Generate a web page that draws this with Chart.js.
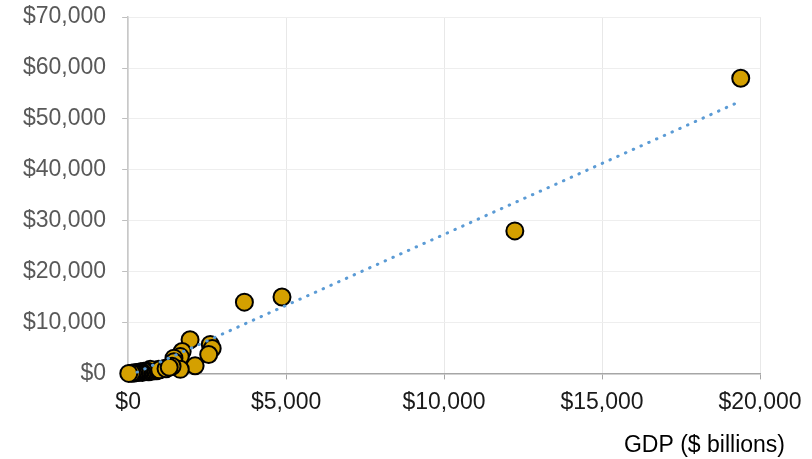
<!DOCTYPE html>
<html>
<head>
<meta charset="utf-8">
<script src="https://cdn.jsdelivr.net/npm/chart.js@4"></script>
<style>
  html, body { margin: 0; padding: 0; background: #fff; }
  #wrap { width: 812px; height: 459px; }
</style>
</head>
<body>
<div id="wrap"><canvas id="gdpChart"></canvas></div>
<script>
// GDP ($ billions) vs value ($)
const gdp = [19390, 12240, 4870, 3680, 1960, 2600, 2660, 2550, 2120, 1710, 1650, 1450, 1450, 1650, 1390,
             1170, 970, 900, 850, 800, 750, 700, 650, 600, 550, 500, 450, 400, 350, 300, 250, 200, 150, 100,
             1000, 1200, 1300, 20];
const values = [58000, 28000, 15000, 14000, 6600, 5700, 4900, 3700, 1500, 4300, 3300, 3000, 2300, 800, 1400,
                1000, 800, 500, 600, 500, 450, 800, 300, 400, 350, 400, 200, 300, 250, 200, 150, 100, 100, 50,
                700, 900, 1200, 0];
// trend line end points
const trendX = [280, 19390];
const trendY = [200, 53500];
const xTicks = [0, 5000, 10000, 15000, 20000];
const yTicks = [0, 10000, 20000, 30000, 40000, 50000, 60000, 70000];
const xTitle = 'GDP ($ billions)';

const money = v => '$' + Number(v).toLocaleString('en-US');

const xTitlePlugin = {
    id: 'xTitle',
    afterDraw(chart) {
        const c = chart.ctx;
        c.save();
        c.font = '23px "Liberation Sans", Arial, sans-serif';
        c.fillStyle = '#000';
        c.textAlign = 'right';
        c.textBaseline = 'middle';
        c.fillText(xTitle, chart.chartArea.right + 25, chart.height - 13);
        c.restore();
    }
};

const ctx = document.getElementById('gdpChart').getContext('2d');
const myChart = new Chart(ctx, {
    type: 'scatter',
    data: {
        datasets: [{
            type: 'line',
            label: 'Trend',
            data: trendX.map((x, i) => ({x: x, y: trendY[i]})),
            borderColor: '#5b9bd5',
            borderWidth: 3,
            borderDash: [0.5, 8],
            borderCapStyle: 'round',
            pointRadius: 0,
            fill: false,
            order: 0
        }, {
            label: 'Countries',
            data: gdp.map((x, i) => ({x: x, y: values[i]})),
            backgroundColor: '#d4a000',
            borderColor: '#000',
            borderWidth: 2,
            pointRadius: 8.5,
            clip: false,
            order: 1
        }]
    },
    options: {
        responsive: true,
        maintainAspectRatio: false,
        animation: false,
        layout: {
            padding: {left: 7, right: 52, top: 0, bottom: 34}
        },
        plugins: {
            legend: { display: false },
            tooltip: { enabled: false }
        },
        scales: {
            x: {
                type: 'linear',
                min: 0,
                max: 20000,
                afterBuildTicks: axis => { axis.ticks = xTicks.map(v => ({value: v})); },
                ticks: {
                    color: '#1a1a1a',
                    padding: 9,
                    font: { family: '"Liberation Sans", Arial, sans-serif', size: 23 },
                    callback: money
                },
                grid: { color: '#e8e8e8', tickColor: '#a6a6a6', tickLength: 6 },
                border: { color: '#a6a6a6', width: 1.5 }
            },
            y: {
                type: 'linear',
                min: 0,
                max: 70000,
                afterBuildTicks: axis => { axis.ticks = yTicks.map(v => ({value: v})); },
                ticks: {
                    color: '#595959',
                    padding: 16,
                    font: { family: '"Liberation Sans", Arial, sans-serif', size: 23, lineHeight: 0.1 },
                    callback: money
                },
                grid: { color: '#eeeeee', tickColor: '#bfbfbf', tickLength: 6 },
                border: { color: '#c8c8c8', width: 1.5 }
            }
        }
    },
    plugins: [xTitlePlugin]
});
</script>
</body>
</html>
